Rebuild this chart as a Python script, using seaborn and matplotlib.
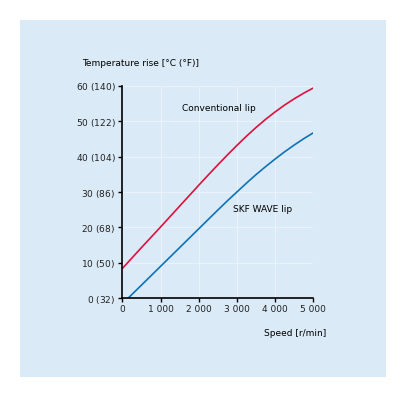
import matplotlib
matplotlib.use("Agg")
import matplotlib.pyplot as plt
import seaborn as sns
import pandas as pd
from matplotlib.patches import Rectangle

# Data
speed_conv = [0, 500, 1000, 1500, 2000, 2250, 2500, 2750, 3000, 3250, 3500, 3750, 4000, 4250, 4500, 4750, 5000]
temp_conv = [8.4, 14.3, 20.1, 26.0, 31.9, 34.8, 37.65, 40.45, 43.15, 45.75, 48.2, 50.5, 52.6, 54.55, 56.3, 57.9, 59.35]
speed_wave = [149, 500, 1000, 1500, 2000, 2500, 2750, 3000, 3250, 3500, 3750, 4000, 4250, 4500, 4750, 5000]
temp_wave = [0.0, 3.7, 9.0, 14.3, 19.6, 24.9, 27.5, 30.0, 32.5, 34.9, 37.15, 39.3, 41.35, 43.25, 45.05, 46.7]

x_ticks = [0, 1000, 2000, 3000, 4000, 5000]
x_ticklabels = ["0", "1 000", "2 000", "3 000", "4 000", "5 000"]
y_ticks = [0, 10, 20, 30, 40, 50, 60]
y_ticklabels_c = ["0", "10", "20", "30", "40", "50", "60"]
y_ticklabels_f = ["32", "50", "68", "86", "104", "122", "140"]

sns.set_style("white")
plt.rcParams["font.family"] = ["DejaVu Sans"]
plt.rcParams["mathtext.fontset"] = "custom"
plt.rcParams["mathtext.it"] = "DejaVu Sans:italic"
plt.rcParams["mathtext.rm"] = "DejaVu Sans"

BG = "#DAEAF7"
RED = "#E0103E"
BLUE = "#0E72B8"

fig = plt.figure(figsize=(4.16, 3.97), dpi=100)
fig.patch.set_facecolor("white")
fig.patches.append(Rectangle((20 / 416, 20.3 / 397), 366 / 416, 356.7 / 397,
                             transform=fig.transFigure, facecolor=BG,
                             edgecolor="none", zorder=-10))

ax = fig.add_axes([122.3 / 416, 98.7 / 397, 191 / 416, 212.6 / 397])
ax.set_facecolor(BG)
ax.set_zorder(1)

df_c = pd.DataFrame({"speed": speed_conv, "temp": temp_conv})
df_w = pd.DataFrame({"speed": speed_wave, "temp": temp_wave})
sns.lineplot(data=df_c, x="speed", y="temp", ax=ax, color=RED, lw=1.2)
sns.lineplot(data=df_w, x="speed", y="temp", ax=ax, color=BLUE, lw=1.2)

ax.set_xlim(0, 5000)
ax.set_ylim(0, 60)
ax.set_xticks(x_ticks)
ax.set_xticklabels(x_ticklabels)
ax.set_yticks(y_ticks)
ax.set_yticklabels([f"{c} $\\mathit{{({f})}}$" for c, f in zip(y_ticklabels_c, y_ticklabels_f)])
ax.set_xlabel("")
ax.set_ylabel("")
ax.grid(True, color="#EAF3FB", lw=0.8)
ax.set_axisbelow(True)
for s in ["top", "right"]:
    ax.spines[s].set_visible(False)
for s in ["left", "bottom"]:
    ax.spines[s].set_color("black")
    ax.spines[s].set_linewidth(1.2)
ax.tick_params(axis="both", direction="out", length=3, width=1, color="black",
               labelsize=6.5, labelcolor="#222222", pad=2, left=True, bottom=True)

ax.text(-0.21, 1.105, "Temperature rise [°C (°F)]", transform=ax.transAxes,
        fontsize=6.5, ha="left", va="center", color="black")
ax.text(1.07, -0.165, "Speed [r/min]", transform=ax.transAxes,
        fontsize=6.5, ha="right", va="center", color="black")
ax.text(1550, 53.7, "Conventional lip", fontsize=6.5, ha="left", va="center", color="black")
ax.text(2900, 25.2, "SKF WAVE lip", fontsize=6.5, ha="left", va="center", color="black")

fig.savefig("out.png", dpi=100, facecolor="white")
